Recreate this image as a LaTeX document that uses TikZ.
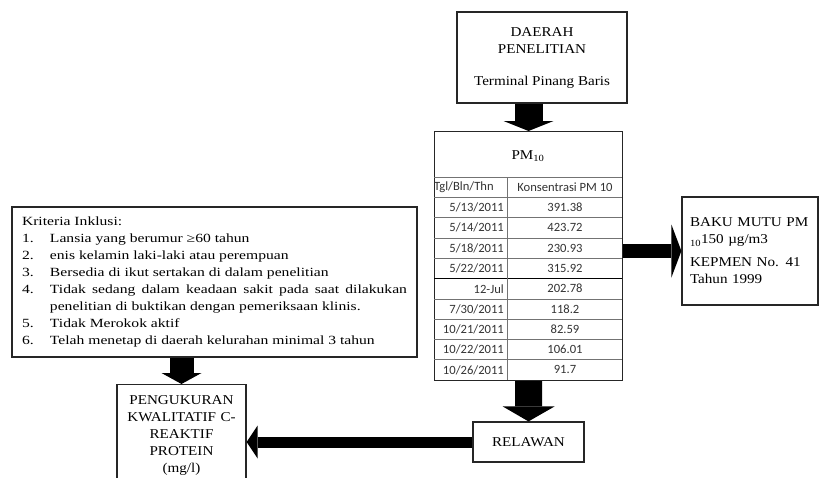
\documentclass[tikz,border=0pt]{standalone}
\usepackage{fontspec}
\setmainfont[FakeStretch=1.12]{Liberation Serif}
\newfontfamily\kritfont[FakeStretch=1.25]{Liberation Serif}
\newfontfamily\tblfont{Carlito}
\usetikzlibrary{arrows.meta,positioning}
\newcommand{\kitem}[2]{\par\noindent\hangindent=28pt\hangafter=1\makebox[28pt][l]{#1}#2}

\begin{document}
\begin{tikzpicture}[x=1pt, y=-1pt,
		box/.style={
			draw=black!85,
			rectangle,
			line width=1.2pt,
			align=center,
			inner sep=0pt,
			font=\fontsize{13.5}{17}\selectfont
		},
		cell/.style={font=\tblfont\fontsize{12.6}{14}\selectfont, text=black!80, inner sep=2pt},
		grid/.style={draw=black!55, line width=0.6pt},
		bigarrow/.style args={#1/#2/#3}{line width=#1, -{Triangle[width=#2, length=#3, line width=0pt]}}
		]
		\useasboundingbox (0,0) rectangle (820,477);
		
		\node[box, minimum width=170pt, minimum height=91pt] (daerah) at (542,57.5) {DAERAH\\PENELITIAN\\[15pt]Terminal Pinang Baris};
		
		% tabel PM10
		\node[box, minimum width=188pt, minimum height=249pt, anchor=north west] (pm) at (434,131) {};
		\node[font=\fontsize{13.5}{16}\selectfont] (pmjudul) at (528,156) {PM\textsubscript{10}};
		\foreach \i in {0,...,9}
			\draw[grid] (434,{177+20.3*\i}) -- (622,{177+20.3*\i});
		\draw[line width=1.2pt] (434,{177+20.3*5}) -- (622,{177+20.3*5});
		\draw[grid] (507,177) -- (507,380);
		\node[cell, anchor=west] (tgl) at (432,187.2) {Tgl/Bln/Thn};
		\node[cell] (kons) at (565,187.2) {Konsentrasi PM 10};
		\foreach \i/\t/\v in {1/{5/13/2011}/391.38, 2/{5/14/2011}/423.72, 3/{5/18/2011}/230.93,
			4/{5/22/2011}/315.92, 5/{12-Jul}/202.78, 6/{7/30/2011}/118.2, 7/{10/21/2011}/82.59,
			8/{10/22/2011}/106.01, 9/{10/26/2011}/91.7} {
			\node[cell, anchor=east] (d\i) at (506,{187.2+20.3*\i}) {\t};
			\node[cell] (v\i) at (565,{187.2+20.3*\i}) {\v};
		}
		
		\node[box, minimum width=136pt, minimum height=108pt, text width=120pt, align=left] (baku) at (750,251) {BAKU MUTU PM\\\textsubscript{10}150 µg/m3\\[6pt]KEPMEN No. 41\\Tahun 1999};
		
		\node[box, minimum width=405pt, minimum height=150pt, text width=385pt, align=justify, font=\kritfont\fontsize{12.5}{17}\selectfont] (krit) at (214.5,282) {%
			\noindent Kriteria Inklusi:
			\kitem{1.}{Lansia yang berumur ≥60 tahun}
			\kitem{2.}{enis kelamin laki-laki atau perempuan}
			\kitem{3.}{Bersedia di ikut sertakan di dalam penelitian}
			\kitem{4.}{Tidak sedang dalam keadaan sakit pada saat dilakukan\linebreak penelitian di buktikan dengan pemeriksaan klinis.}
			\kitem{5.}{Tidak Merokok aktif}
			\kitem{6.}{Telah menetap di daerah kelurahan minimal 3 tahun}\par};
		
		\node[box, anchor=north, minimum width=129pt, minimum height=102pt, text width=125pt, inner sep=2pt] (peng) at (181.5,384) {PENGUKURAN\\KWALITATIF C-\\REAKTIF\\PROTEIN\\(mg/l)};
		
		\node[box, minimum width=111pt, minimum height=40pt] (relawan) at (528.5,442) {RELAWAN};
		
		\draw[bigarrow=28pt/50pt/10pt] (pm.north |- daerah.south) -- (pm.north);
		\draw[bigarrow=14pt/53pt/10pt] (pm.east |- baku.west) -- (baku.west);
		\draw[bigarrow=27pt/52pt/15pt] (pm.south) -- (relawan.north);
		\draw[bigarrow=24pt/40pt/11pt] (peng.north |- krit.south) -- (peng.north);
		\draw[bigarrow=11pt/33pt/11pt] (relawan.west) -- (relawan.west -| peng.east);
		
	\end{tikzpicture}
\end{document}
